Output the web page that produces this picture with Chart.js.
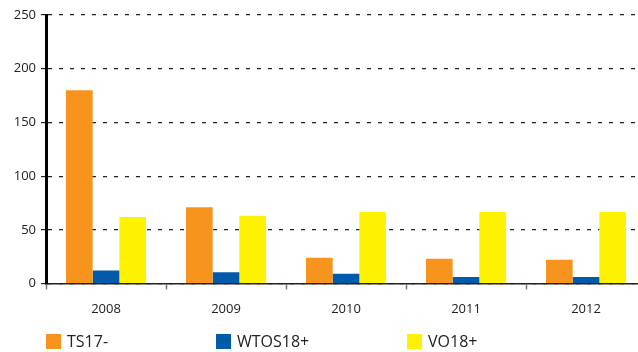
<!DOCTYPE html>
<html>
<head>
<meta charset="utf-8">
<script src="https://cdn.jsdelivr.net/npm/chart.js@4.4.0/dist/chart.umd.min.js"></script>
<style>
    html, body { margin: 0; padding: 0; background: #fff; }
    #wrap { position: relative; width: 638px; height: 352px; overflow: hidden; }
    #chart { position: absolute; left: 0; top: 0; }
    .legend-item {
        position: absolute; top: 334px; height: 15px;
        font-family: "Open Sans", sans-serif; font-size: 16px; color: #222;
        line-height: 15px; white-space: nowrap;
    }
    .legend-item span.box { display: inline-block; width: 15px; height: 15px; vertical-align: top; margin-right: 6px; }
</style>
</head>
<body>
<div id="wrap">
    <canvas id="chart" width="646" height="352"></canvas>
    <div id="legend"></div>
</div>
<script>
// Jaarcijfers per groep
const years = ['2008', '2009', '2010', '2011', '2012'];
const ts17 = [180, 71, 24, 23, 22];
const wtos18 = [12, 10.5, 9, 6, 6];
const vo18 = [62, 63, 66.5, 66.5, 66.5];
const yTicks = [0, 50, 100, 150, 200, 250];

const seriesNames = ['TS17-', 'WTOS18+', 'VO18+'];
const seriesColors = ['#F7941D', '#005BAA', '#FFF200'];
const legendLeft = [46, 216, 407];

const datasets = [ts17, wtos18, vo18].map((values, i) => ({
    label: seriesNames[i],
    data: values,
    backgroundColor: seriesColors[i],
    borderWidth: 0,
    categoryPercentage: 0.667,
    barPercentage: 1.0
}));

// legenda los onder de grafiek
const legend = document.getElementById('legend');
seriesNames.forEach((name, i) => {
    const item = document.createElement('div');
    item.className = 'legend-item';
    item.style.left = legendLeft[i] + 'px';
    item.innerHTML = '<span class="box" style="background:' + seriesColors[i] + '"></span>' + name;
    legend.appendChild(item);
});

const ctx = document.getElementById('chart').getContext('2d');
new Chart(ctx, {
    type: 'bar',
    data: { labels: years, datasets: datasets },
    options: {
        responsive: false,
        animation: false,
        devicePixelRatio: 1,
        layout: { padding: { top: 15, right: 0, left: 0, bottom: 0 } },
        plugins: {
            legend: { display: false },
            tooltip: { enabled: false }
        },
        scales: {
            x: {
                grid: {
                    offset: true,
                    drawOnChartArea: false,
                    drawTicks: true,
                    tickLength: 6,
                    tickWidth: 1.5,
                    tickColor: '#777'
                },
                border: { display: true, color: '#222', width: 1.5 },
                ticks: {
                    color: '#222',
                    padding: 12,
                    font: { family: 'Open Sans', size: 13 }
                },
                afterFit: (scale) => { scale.height = 68.5; }
            },
            y: {
                min: 0,
                max: 250,
                afterBuildTicks: (scale) => { scale.ticks = yTicks.map(v => ({ value: v })); },
                grid: {
                    color: '#222',
                    lineWidth: 1.2,
                    drawTicks: true,
                    tickLength: 5,
                    tickColor: '#222',
                    tickBorderDash: []
                },
                border: { display: true, color: '#000', width: 3, dash: [4, 7] },
                ticks: {
                    color: '#222',
                    padding: 5,
                    font: { family: 'Open Sans', size: 13 }
                },
                afterFit: (scale) => { scale.width = 46; }
            }
        }
    }
});
</script>
</body>
</html>
